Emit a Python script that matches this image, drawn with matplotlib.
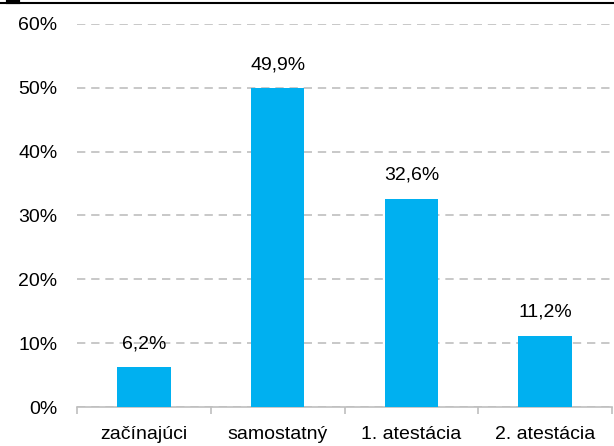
import matplotlib
matplotlib.use("Agg")
import matplotlib.pyplot as plt
from matplotlib.lines import Line2D
from matplotlib.ticker import MultipleLocator, FuncFormatter

plt.rcParams['font.family'] = ['Liberation Sans Narrow', 'Liberation Sans', 'DejaVu Sans']

# data
categories = ['začínajúci', 'samostatný', '1. atestácia', '2. atestácia']
values = [6.2, 49.9, 32.6, 11.2]
value_labels = ['6,2%', '49,9%', '32,6%', '11,2%']

bar_color = '#00B0F0'
grid_color = '#BFBFBF'

fig = plt.figure(figsize=(6.14, 4.46), dpi=100)
ax = fig.add_axes([77/614, 39/446, 535/614, 383/446])

x = list(range(len(categories)))
ax.bar(x, values, width=0.4, color=bar_color, zorder=3)

for xi, v, lab in zip(x, values, value_labels):
    ax.annotate(lab, (xi, v), xytext=(0, 11), textcoords='offset points',
                ha='center', va='bottom', fontsize=14, color='black')

ax.set_xlim(-0.5, len(categories) - 0.5)
ax.set_ylim(0, 60)
ax.yaxis.set_major_locator(MultipleLocator(10))
ax.yaxis.set_major_formatter(FuncFormatter(lambda v, p: f'{v:.0f}%'))
ax.yaxis.grid(True, color=grid_color, linestyle=(0, (5, 3.5)), linewidth=1.2, zorder=0)
ax.tick_params(axis='y', length=0, pad=14, labelsize=14)

# category labels centered, ticks at boundaries
ax.set_xticks(x)
ax.set_xticklabels(categories, fontsize=14)
ax.tick_params(axis='x', which='major', length=0, pad=14)
ax.set_xticks([i - 0.5 for i in range(len(categories) + 1)], minor=True)
ax.tick_params(axis='x', which='minor', length=5, color=grid_color, width=1.2)

for s in ['top', 'right', 'left']:
    ax.spines[s].set_visible(False)
ax.spines['bottom'].set_color(grid_color)
ax.spines['bottom'].set_linewidth(1.2)

# cropped title rule at the top edge
fig.add_artist(Line2D([0, 1], [1 - 3/446, 1 - 3/446], color='black', linewidth=1.5,
                      transform=fig.transFigure))
fig.add_artist(Line2D([8/614, 18/614], [1 - 2/446, 1 - 2/446], color='black', linewidth=3,
                      transform=fig.transFigure))

plt.savefig('out.png', dpi=100)
